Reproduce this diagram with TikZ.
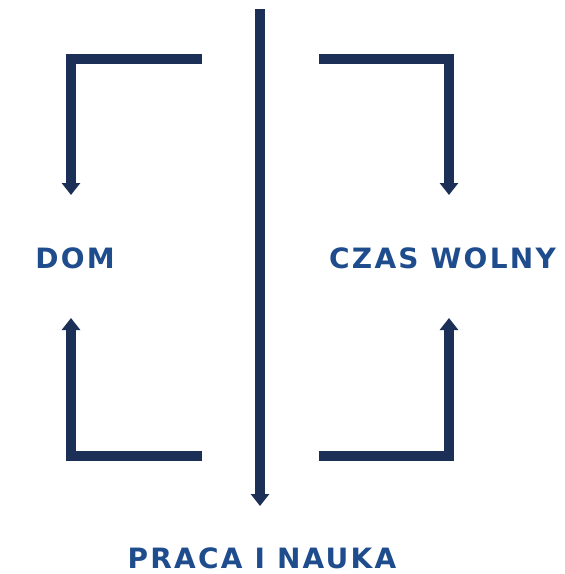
\documentclass[tikz,border=0pt]{standalone}
\usepackage{fontspec}
\setmainfont{DejaVu Sans}[LetterSpace=8]
\usetikzlibrary{arrows.meta,positioning}
\definecolor{navy}{RGB}{27,47,87}
\definecolor{textblue}{RGB}{30,76,140}
\tikzset{
    %Define standard arrow tip
    >={Triangle[width=18pt,length=12pt]},
    flow/.style={
      draw=navy,
      line width=10pt,
      ->},
    area/.style={
      text=textblue,
      font=\fontsize{28}{30}\selectfont\bfseries,
      inner sep=0pt},
}
\begin{document}
\begin{tikzpicture}[x=1pt,y=-1pt]
    \useasboundingbox (0,0) rectangle (565,574);
    \node (dom) [area] at (75,258)
          {DOM};
    \node (czas) [area] at (442.5,258.5)
          {CZAS WOLNY};
    \node (praca) [area] at (262,558)
          {PRACA I NAUKA};
    % free ends of the brackets
    \coordinate (tl) at (202,59);
    \coordinate (bl) at (202,456);
    \coordinate (tr) at (319,59);
    \coordinate (br) at (319,456);
    \coordinate (domtop) at (71,195);
    \coordinate (dombot) at (71,318);
    \coordinate (czastop) at (449,195);
    \coordinate (czasbot) at (449,318);
    \coordinate (split) at (260,9);
    \coordinate (pracatop) at (260,506);
    \draw [flow] (tl) -| (domtop);
    \draw [flow] (bl) -| (dombot);
    \draw [flow] (tr) -| (czastop);
    \draw [flow] (br) -| (czasbot);
    \draw [flow] (split) -- (pracatop);
\end{tikzpicture}
\end{document}
